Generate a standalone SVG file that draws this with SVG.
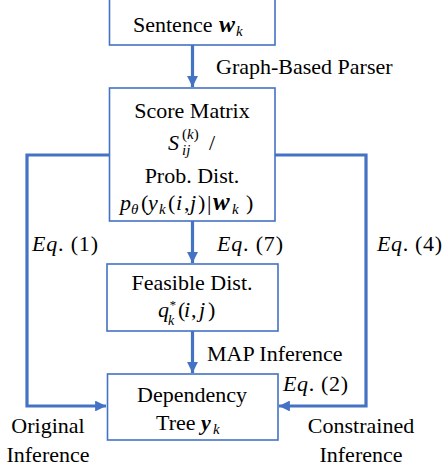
<svg xmlns="http://www.w3.org/2000/svg" width="443" height="472" viewBox="0 0 443 472">
<defs>
<style>
.box{fill:#fff;stroke:#4472C4;stroke-width:1.6}
.con{fill:none;stroke:#4472C4;stroke-width:3.2}
.i{font-style:italic}
.n{font-style:normal}
.b{font-weight:bold;font-style:italic}
.s{font-size:15px}
</style>
<marker id="ah" viewBox="0 0 10 10" refX="10" refY="5" markerWidth="3.4" markerHeight="3.4" orient="auto" markerUnits="strokeWidth">
<path d="M0,0 L10,5 L0,10 z" fill="#4472C4"/>
</marker>
</defs>
<rect width="443" height="472" fill="#fff"/>
<g id="connectors">
<line class="con" x1="192.5" y1="45" x2="192.5" y2="87" marker-end="url(#ah)"/>
<line class="con" x1="192.5" y1="221" x2="192.5" y2="263" marker-end="url(#ah)"/>
<line class="con" x1="192.5" y1="331" x2="192.5" y2="373" marker-end="url(#ah)"/>
<polyline class="con" points="110,155 27,155 27,406 106,406" marker-end="url(#ah)"/>
<polyline class="con" points="275,155 366,155 366,406 279,406" marker-end="url(#ah)"/>
</g>
<g font-family="'Liberation Serif', 'Times New Roman', serif" font-size="22" fill="#000">
<g id="sentence">
<rect class="box" x="109.5" y="-2" width="165.5" height="47"/>
<text x="133" y="32">Sentence<tspan class="b" x="219" font-size="24">w</tspan><tspan class="i s" x="236" y="36">k</tspan></text>
</g>
<g id="score">
<rect class="box" x="109.5" y="88" width="165.5" height="133"/>
<text x="192" y="118" text-anchor="middle">Score Matrix</text>
<text class="i" x="168" y="150">S</text>
<text class="i s" x="182" y="139"><tspan class="n">(</tspan>k<tspan class="n">)</tspan></text>
<text class="i s" x="182" y="155">ij</text>
<text x="209" y="150">/</text>
<text x="192" y="183" text-anchor="middle">Prob. Dist.</text>
<text class="i" y="210"><tspan x="120">p</tspan><tspan class="s" x="131" y="214">θ</tspan><tspan class="n" x="141" y="210">(</tspan><tspan x="148">y</tspan><tspan class="s" x="159" y="214">k</tspan><tspan class="n" x="168" y="210">(</tspan><tspan x="176">i</tspan><tspan class="n" x="184">,</tspan><tspan x="190">j</tspan><tspan class="n" x="198">)</tspan><tspan class="n" x="207">|</tspan><tspan class="b" x="213" font-size="25">w</tspan><tspan class="s" x="232" y="214">k</tspan><tspan class="n" x="246" y="210">)</tspan></text>
</g>
<g id="feasible">
<rect class="box" x="107" y="264" width="171" height="67"/>
<text x="192" y="290" text-anchor="middle">Feasible Dist.</text>
<text class="i" x="158" y="317">q</text>
<text class="i" x="169" y="309" font-size="13">*</text>
<text class="i" x="168" y="325" font-size="14">k</text>
<text class="i" y="317"><tspan class="n" x="178">(</tspan><tspan x="184">i</tspan><tspan class="n" x="191">,</tspan><tspan x="199">j</tspan><tspan class="n" x="208">)</tspan></text>
</g>
<g id="tree">
<rect class="box" x="107.5" y="374" width="170.5" height="66"/>
<text x="192" y="402" text-anchor="middle">Dependency</text>
<text x="156" y="430">Tree<tspan class="b" x="201">y</tspan><tspan class="i s" x="213" y="434">k</tspan></text>
</g>
<g id="labels">
<text x="216" y="74">Graph-Based Parser</text>
<text class="i" x="32" y="251" textLength="66" lengthAdjust="spacing">Eq<tspan class="n">. (1)</tspan></text>
<text class="i" x="217" y="251" textLength="66" lengthAdjust="spacing">Eq<tspan class="n">. (7)</tspan></text>
<text class="i" x="377" y="251" textLength="65" lengthAdjust="spacing">Eq<tspan class="n">. (4)</tspan></text>
<text x="207" y="361">MAP Inference</text>
<text class="i" x="283" y="391" textLength="65" lengthAdjust="spacing">Eq<tspan class="n">. (2)</tspan></text>
<text x="48" y="433" text-anchor="middle">Original</text>
<text x="48" y="462" text-anchor="middle">Inference</text>
<text x="361" y="433" text-anchor="middle">Constrained</text>
<text x="361" y="462" text-anchor="middle">Inference</text>
</g>
</g>
</svg>
